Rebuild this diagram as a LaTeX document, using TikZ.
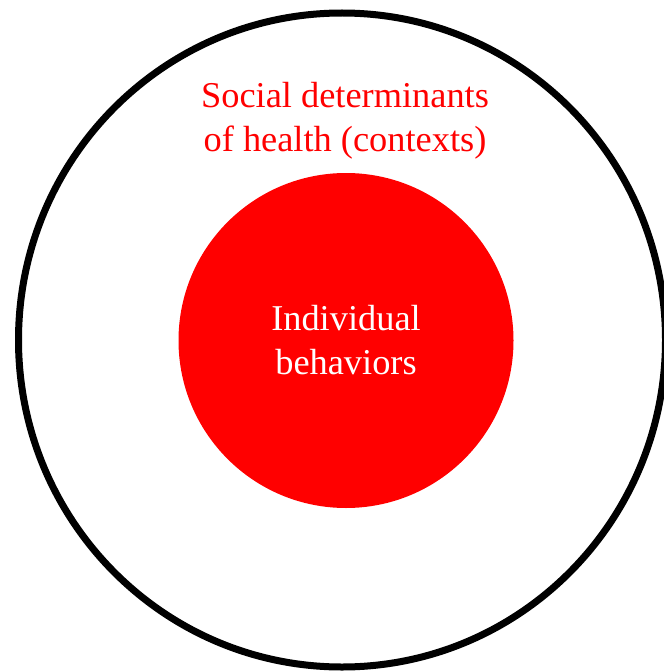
\documentclass[tikz,border=0pt]{standalone}
\usepackage{fontspec}
\setmainfont{Liberation Serif}
\begin{document}
\begin{tikzpicture}[x=1bp,y=-1bp,
    lbl/.style={align=center,font=\fontsize{36.5}{44}\selectfont,anchor=base,inner sep=0pt}]
                \useasboundingbox (0,0) rectangle (664,671);
                \clip (0,0) rectangle (664,671);

                \draw[line width=7bp] (342,340) ellipse [x radius=323.5, y radius=327];
                \fill[red] (346,340.5) circle (167.5);

                \node[lbl,text=red] (ctx) at (345,151) {Social determinants\\of health (contexts)};
                \node[lbl,text=white] (beh) at (346,374) {Individual\\behaviors};
            \end{tikzpicture}
\end{document}
